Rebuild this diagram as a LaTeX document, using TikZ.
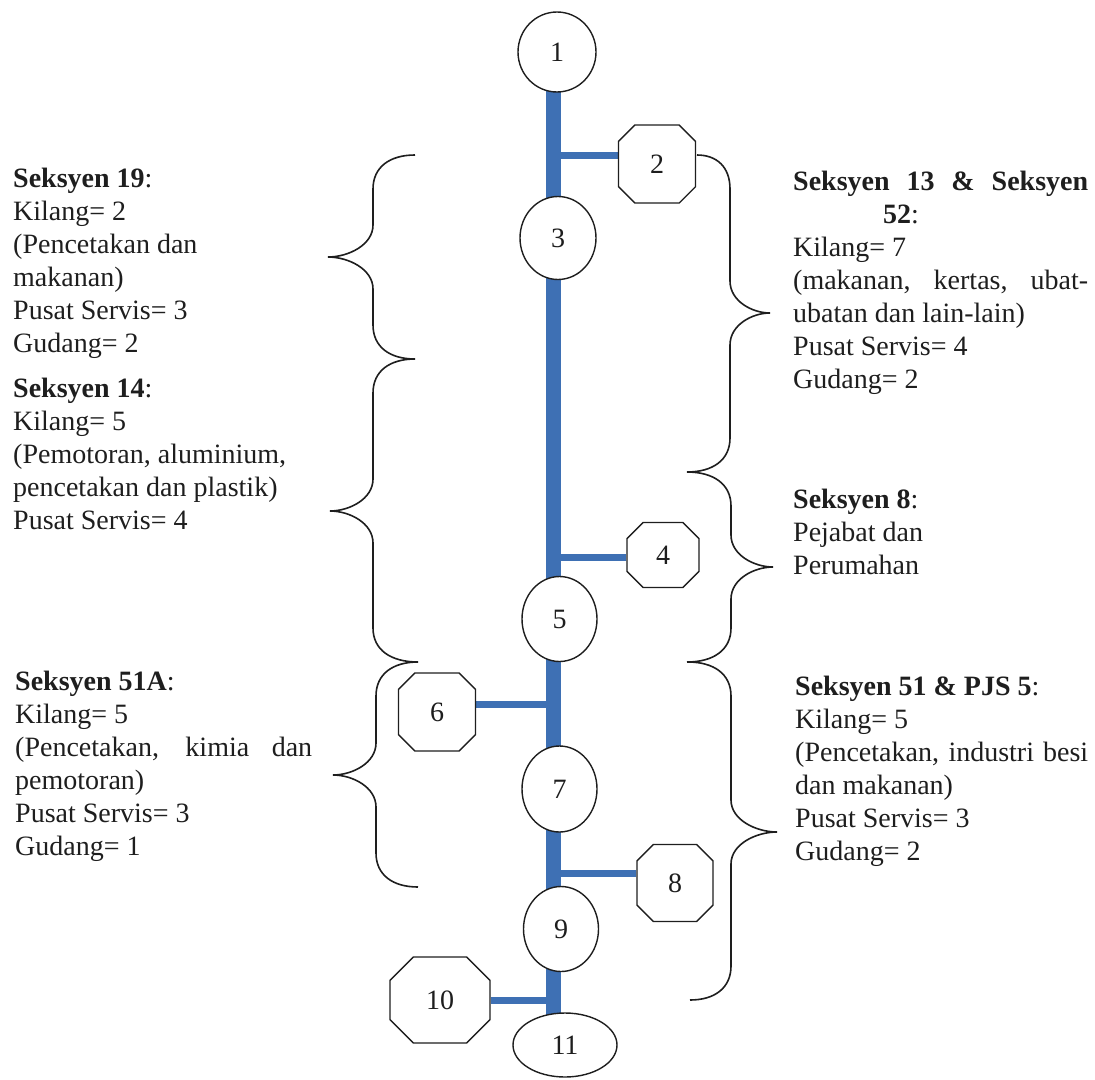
\documentclass[tikz,border=0pt]{standalone}
\usepackage{fontspec}
\setmainfont{Liberation Serif}
\usetikzlibrary{shapes.geometric,shapes.misc,backgrounds}
\definecolor{roadblue}{RGB}{62,112,180}
\definecolor{ink}{RGB}{30,30,30}

% curly brace: top end, vertical x, tip, bottom end
\newcommand\sectionbrace[7]{%
  \draw[bracket] (#1,#2) .. controls ({#3+0.4*(#1-#3)},#2) and (#3,{#2+12}) .. (#3,{#2+34})
    -- (#3,{#5-32}) .. controls (#3,{#5-12}) and ({#4+0.45*(#3-#4)},#5) .. (#4,#5)
    .. controls ({#4+0.45*(#3-#4)},#5) and (#3,{#5+12}) .. (#3,{#5+32})
    -- (#3,{#7-34}) .. controls (#3,{#7-12}) and ({#3+0.4*(#6-#3)},#7) .. (#6,#7);}

\begin{document}
\begin{tikzpicture}[x=1pt,y=-1pt,
  hub/.style={ellipse, draw=ink, line width=1.4pt, fill=white, inner sep=0pt,
    text=ink, font=\fontsize{28}{33}\selectfont},
  octa/.style={chamfered rectangle, draw=ink, line width=1.4pt, fill=white, inner sep=0pt,
    text=ink, font=\fontsize{28}{33}\selectfont},
  spine/.style={draw=roadblue, line width=15pt},
  branch/.style={draw=roadblue, line width=7pt},
  bracket/.style={draw=ink, line width=1.6pt},
  info/.style={anchor=base west, inner sep=0pt, text=ink, font=\fontsize{28}{33}\selectfont}]

\useasboundingbox (0,0) rectangle (1095,1079);

% road junctions
\node[hub, minimum width=78pt, minimum height=80pt] (n1) at (557,52) {1};
\node[hub, minimum width=76pt, minimum height=83pt] (n3) at (558,238) {3};
\node[hub, minimum width=75pt, minimum height=85pt] (n5) at (559.5,619) {5};
\node[hub, minimum width=75pt, minimum height=86pt] (n7) at (559.5,789) {7};
\node[hub, minimum width=75pt, minimum height=85pt] (n9) at (561,929) {9};
\node[hub, minimum width=104pt, minimum height=64pt] (n11) at (565,1045) {11};

% side stops
\node[octa, minimum width=77pt, minimum height=78pt,
  chamfered rectangle xsep=21pt, chamfered rectangle ysep=21pt] (n2) at (657,164) {2};
\node[octa, minimum width=72pt, minimum height=65pt,
  chamfered rectangle xsep=18pt, chamfered rectangle ysep=18pt] (n4) at (663,555) {4};
\node[octa, minimum width=77pt, minimum height=78pt,
  chamfered rectangle xsep=21pt, chamfered rectangle ysep=21pt] (n6) at (437,712) {6};
\node[octa, minimum width=76pt, minimum height=77pt,
  chamfered rectangle xsep=21pt, chamfered rectangle ysep=21pt] (n8) at (675,883) {8};
\node[octa, minimum width=100pt, minimum height=86pt,
  chamfered rectangle xsep=24pt, chamfered rectangle ysep=24pt] (n10) at (440,1000) {10};

% main road and side roads
\coordinate (top) at (553,90);
\coordinate (bottom) at (553,1020);
\coordinate (b2) at ([yshift=9pt]n2.west);
\coordinate (b4) at ([yshift=-2pt]n4.west);
\coordinate (b6) at ([yshift=8pt]n6.east);
\coordinate (b8) at ([yshift=10pt]n8.west);
\coordinate (b10) at (n10.east);
\begin{scope}[on background layer]
  \draw[spine] (top) -- (bottom);
  \draw[branch] (b2) -- (b2 -| top);
  \draw[branch] (b4) -- (b4 -| top);
  \draw[branch] (b6) -- (b6 -| top);
  \draw[branch] (b8) -- (b8 -| top);
  \draw[branch] (b10) -- (b10 -| top);
\end{scope}

% section braces
\sectionbrace{415}{155}{373}{328}{257}{415}{359}
\sectionbrace{415}{359}{373}{330}{511}{418}{662}
\sectionbrace{418}{662}{376}{333}{775}{418}{887}
\sectionbrace{697}{155}{730}{770}{313}{687}{472}
\sectionbrace{687}{472}{731}{773}{567}{687}{662}
\sectionbrace{688}{662}{731}{777}{832}{690}{1000}

% section descriptions
\node[info] (s19) at (13,187) {\begin{tabular}[t]{@{}l@{}}\textbf{Seksyen 19}:\\
  Kilang= 2\\ (Pencetakan dan\\ makanan)\\ Pusat Servis= 3\\ Gudang= 2\end{tabular}};
\node[info] (s14) at (13,397) {\begin{tabular}[t]{@{}l@{}}\textbf{Seksyen 14}:\\
  Kilang= 5\\ (Pemotoran, aluminium,\\ pencetakan dan plastik)\\ Pusat Servis= 4\end{tabular}};
\node[info] (s51a) at (15,690) {\begin{tabular}[t]{@{}l@{}}\textbf{Seksyen 51A}:\\
  Kilang= 5\\ \makebox[297pt][s]{(Pencetakan, kimia dan}\\ pemotoran)\\ Pusat Servis= 3\\ Gudang= 1\end{tabular}};
\node[info] (s13) at (793,190) {\begin{tabular}[t]{@{}l@{}}\makebox[295pt][s]{\textbf{Seksyen 13 \& Seksyen}}\\
  \hspace*{90pt}\textbf{52}:\\ Kilang= 7\\ \makebox[295pt][s]{(makanan, kertas, ubat-}\\
  ubatan dan lain-lain)\\ Pusat Servis= 4\\ Gudang= 2\end{tabular}};
\node[info] (s8) at (793,508) {\begin{tabular}[t]{@{}l@{}}\textbf{Seksyen 8}:\\
  Pejabat dan\\ Perumahan\end{tabular}};
\node[info] (s51) at (795,695) {\begin{tabular}[t]{@{}l@{}}\textbf{Seksyen 51 \& PJS 5}:\\
  Kilang= 5\\ \makebox[293pt][s]{(Pencetakan, industri besi}\\ dan makanan)\\ Pusat Servis= 3\\ Gudang= 2\end{tabular}};
\end{tikzpicture}
\end{document}
